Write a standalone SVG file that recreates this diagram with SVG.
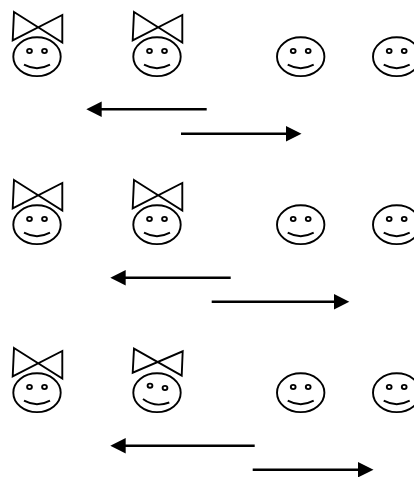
<svg xmlns="http://www.w3.org/2000/svg" width="414" height="477" viewBox="0 0 414 477">
<defs>
<style>
.s{fill:none;stroke:#000;stroke-width:1.9;stroke-linejoin:miter}
.w{fill:#fff;stroke:#000;stroke-width:1.9}
.e{fill:#fff;stroke:#000;stroke-width:1.9}
.c{stroke:#000;stroke-width:2.5;fill:none}
.h{fill:#000;stroke:none}
</style>
<g id="face">
<ellipse class="w" cx="0" cy="0" rx="23.7" ry="19.4"/>
<ellipse class="e" cx="-7.5" cy="-5.7" rx="2.4" ry="2.1"/>
<ellipse class="e" cx="7.5" cy="-5.7" rx="2.4" ry="2.1"/>
<path class="s" d="M-13 8Q0 15 13 8"/>
</g>
<path id="bow" class="s" d="M14 12L62.300 42.500L62.300 15L12.700 40.300Z"/>
</defs>
<rect width="414" height="477" fill="#fff"/>
<g id="row1">
<g id="g1"><use href="#face" x="37" y="56.700"/><use href="#bow"/></g>
<g id="g2"><use href="#face" x="157" y="56.700"/><use href="#bow" x="120"/></g>
<g id="b1"><use href="#face" x="300.700" y="56.700"/></g>
<g id="b2"><use href="#face" x="396.700" y="56.700"/></g>
</g>
<g id="row2">
<g id="g3"><use href="#face" x="37" y="224.700"/><use href="#bow" y="168"/></g>
<g id="g4"><use href="#face" x="157" y="224.700"/><use href="#bow" x="120" y="168"/></g>
<g id="b3"><use href="#face" x="300.700" y="224.700"/></g>
<g id="b4"><use href="#face" x="396.700" y="224.700"/></g>
</g>
<g id="row3">
<g id="g5"><use href="#face" x="37" y="392.700"/><use href="#bow" y="336"/></g>
<g id="g6">
<ellipse class="w" cx="157" cy="392.700" rx="23.700" ry="19.400"/>
<ellipse class="e" cx="150" cy="385.700" rx="2.400" ry="2.100"/>
<ellipse class="e" cx="165" cy="388" rx="2.400" ry="2.100"/>
<path class="s" d="M143 399Q155 408 169.300 402.500"/>
<path class="s" d="M134 348.700L181.700 375.700L182.700 351.300L132.700 372.700Z"/>
</g>
<g id="b5"><use href="#face" x="300.700" y="392.700"/></g>
<g id="b6"><use href="#face" x="396.700" y="392.700"/></g>
</g>
<g id="connectors">
<path class="c" d="M100 109.300H206.700"/><path class="h" d="M86.300 109.300L101.700 101.600V117Z"/>
<path class="c" d="M181 133.700H288"/><path class="h" d="M301.500 133.700L286 126V141.400Z"/>
<path class="c" d="M124 277.700H230.700"/><path class="h" d="M110.300 277.700L125.700 270V285.400Z"/>
<path class="c" d="M211.700 301.700H336"/><path class="h" d="M349.300 301.700L334 294V309.400Z"/>
<path class="c" d="M124 445.700H254.700"/><path class="h" d="M110.300 445.700L125.700 438V453.400Z"/>
<path class="c" d="M252.700 469.700H360"/><path class="h" d="M373.500 469.700L358 462V477.400Z"/>
</g>
</svg>
